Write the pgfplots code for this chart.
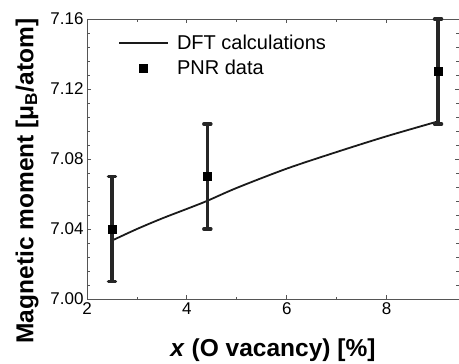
\documentclass[border=0pt]{standalone}
\usepackage{fontspec}
\setmainfont{Liberation Sans}
\setsansfont{Liberation Sans}
\usepackage{pgfplots}
\pgfplotsset{compat=1.18}
\definecolor{axgray}{HTML}{555555}
\definecolor{dark}{HTML}{1A1A1A}
\definecolor{ebar}{HTML}{262626}
\begin{document}
\begin{tikzpicture}
\begin{axis}[
  scale only axis,
  width=372pt, height=280pt,
  xmin=2, xmax=9.45, ymin=7.00, ymax=7.16,
  xtick={2,4,6,8}, ytick={7.00,7.04,7.08,7.12,7.16},
  minor x tick num=1, minor y tick num=4,
  tick align=inside,
  major tick length=4pt, minor tick length=2.5pt,
  axis line style={axgray, line width=0.8pt},
  tick style={axgray, line width=0.8pt},
  /pgf/number format/assume math mode=true,
  ticklabel style={font=\fontsize{17}{20}\selectfont},
  yticklabel style={/pgf/number format/.cd, fixed, fixed zerofill, precision=2},
  xticklabel style={/pgf/number format/.cd, fixed, precision=0},
  xlabel={\textbf{\textit{x} (O vacancy) [\%]}},
  ylabel={\textbf{Magnetic moment [μ\textsubscript{B}/atom]}},
  label style={font=\fontsize{24.5}{28}\selectfont},
  xlabel style={at={(axis description cs:0.5,-0.182)}, anchor=center},
  ylabel style={at={(axis description cs:-0.161,0.421)}, anchor=center},
  legend style={draw=none, fill=none, at={(rel axis cs:0.075,0.955)}, anchor=north west,
    font=\fontsize{20}{24}\selectfont, row sep=7pt,
    nodes={inner sep=1pt}},
  legend cell align=left,
  clip=false,
]
\addplot[dark, line width=1.8pt, smooth,
  legend image code/.code={\path[draw=none, fill=none] (0pt,0pt) -- (57pt,0pt); \draw[dark, line width=1.8pt] (0pt,0pt) -- (49pt,0pt);}] coordinates {
  (2.5,7.0334) (3,7.040) (3.5,7.046) (4,7.0515) (4.4,7.056) (5,7.0635) (6,7.0745) (7,7.084) (8,7.093) (9.03,7.1015)
};
\addlegendentry{DFT calculations}
\addplot[only marks, mark=square*, mark size=4pt, mark options={black},
  legend image code/.code={\path[draw=none, fill=none] (0pt,0pt) -- (57pt,0pt); \draw[black, mark=square*, mark size=4pt, only marks] plot coordinates {(24.5pt,0pt)};},
  error bars/.cd, y dir=both, y explicit,
  error bar style={ebar, line width=3.5pt},
  error mark options={ebar, line width=3.5pt, mark size=3.5pt, line cap=round, rotate=90}]
  coordinates {
  (2.5,7.04) +- (0,0.03)
  (4.41,7.07) +- (0,0.03)
  (9.03,7.13) +- (0,0.03)
};
\addlegendentry{PNR data}
\coordinate (bl) at (rel axis cs:-0.2339,-0.2286);
\coordinate (tr) at (rel axis cs:1.0,1.0679);
\end{axis}
\pgfresetboundingbox
\path (bl) rectangle (tr);
\end{tikzpicture}
\end{document}
